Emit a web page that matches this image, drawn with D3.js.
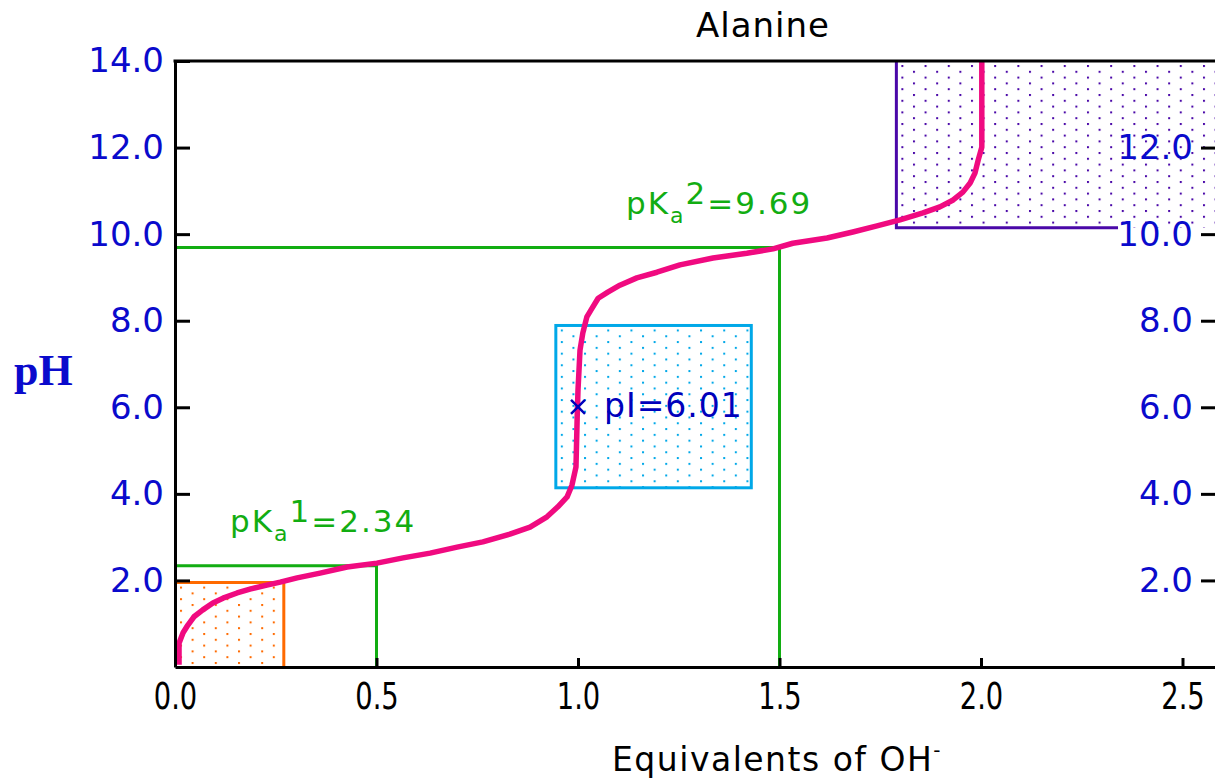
<!DOCTYPE html>
<html>
<head>
<meta charset="utf-8">
<script src="https://cdnjs.cloudflare.com/ajax/libs/d3/7.8.5/d3.min.js"></script>
<style>
  body { margin: 0; background: #fff; overflow: hidden; }
</style>
</head>
<body>
<div id="chart"></div>
<script>
// titration curve of alanine
var eqOH = [0.010, 0.010, 0.020, 0.032, 0.047, 0.069, 0.094, 0.119, 0.154, 0.186,
            0.228, 0.261, 0.303, 0.360, 0.427, 0.501, 0.566, 0.633, 0.700, 0.764,
            0.831, 0.881, 0.923, 0.950, 0.973, 0.985, 0.995, 0.998, 1.000, 1.005,
            1.012, 1.022, 1.035, 1.050, 1.074, 1.104, 1.146, 1.196, 1.253, 1.335,
            1.419, 1.484, 1.533, 1.618, 1.682, 1.742, 1.799, 1.856, 1.898, 1.931,
            1.955, 1.973, 1.985, 1.993, 2.002, 2.002];
var pH = [0.05, 0.55, 0.79, 0.97, 1.16, 1.32, 1.48, 1.59, 1.71, 1.80,
          1.89, 1.96, 2.06, 2.17, 2.31, 2.40, 2.52, 2.63, 2.77, 2.89,
          3.07, 3.23, 3.47, 3.70, 3.93, 4.20, 4.62, 5.78, 6.40, 7.32,
          7.72, 8.09, 8.29, 8.52, 8.66, 8.82, 8.99, 9.12, 9.29, 9.45,
          9.56, 9.66, 9.79, 9.91, 10.05, 10.19, 10.33, 10.49, 10.63, 10.79,
          10.97, 11.18, 11.41, 11.71, 12.01, 14.0];

var pKa1 = 2.34, pKa2 = 9.69;
var pIx = 1.0, pI = 6.01;
var pKa1x = 0.5, pKa2x = 1.5;

// shaded regions: low pH, isoelectric, high pH
var regionX0 = [0, 0.945, 1.79];
var regionX1 = [0.27, 1.43, 2.34];
var regionPH0 = [0, 4.14, 10.15];
var regionPH1 = [1.95, 7.89, 14];
var regionColors = ["#ff6a00", "#00a8e8", "#4a08a8"];

var xTicks = [0, 0.5, 1, 1.5, 2, 2.5];
var yTicksLeft = [2, 4, 6, 8, 10, 12, 14];
var yTicksRight = [2, 4, 6, 8, 10, 12];

var width = 1215, height = 779;
var svg = d3.select("#chart").append("svg")
  .attr("width", width)
  .attr("height", height)
  .style("display", "block");

var x = d3.scaleLinear().domain([0, 2.6]).range([175, 175 + 2.6 * 403]);
var y = d3.scaleLinear().domain([0, 14]).range([667, 61]);

var green = "#12ad12", pink = "#f00a80", blue = "#0a0acc";

// dotted fills
var defs = svg.append("defs");
regionColors.forEach(function (c, i) {
  var p = defs.append("pattern")
    .attr("id", "dots" + i)
    .attr("patternUnits", "userSpaceOnUse")
    .attr("x", x(regionX0[i]) + 5)
    .attr("y", y(regionPH1[i]) + 4)
    .attr("width", 23.2)
    .attr("height", 11.6);
  p.append("rect").attr("x", 0).attr("y", 0).attr("width", 2).attr("height", 2).attr("fill", c);
  p.append("rect").attr("x", 11.6).attr("y", 5.8).attr("width", 2).attr("height", 2).attr("fill", c);
});

// region boxes
regionColors.forEach(function (c, i) {
  var x1 = i === 2 ? x.domain()[1] : regionX1[i];
  svg.append("rect")
    .attr("x", x(regionX0[i]))
    .attr("y", y(regionPH1[i]))
    .attr("width", x(x1) - x(regionX0[i]))
    .attr("height", y(regionPH0[i]) - y(regionPH1[i]))
    .attr("fill", "url(#dots" + i + ")");
});
// borders
svg.append("path")
  .attr("d", "M" + x(regionX0[0]) + "," + y(regionPH1[0]) + "H" + x(regionX1[0]) + "V" + y(regionPH0[0]))
  .attr("fill", "none").attr("stroke", regionColors[0]).attr("stroke-width", 3);
svg.append("rect")
  .attr("x", x(regionX0[1]))
  .attr("y", y(regionPH1[1]))
  .attr("width", x(regionX1[1]) - x(regionX0[1]))
  .attr("height", y(regionPH0[1]) - y(regionPH1[1]))
  .attr("fill", "none").attr("stroke", regionColors[1]).attr("stroke-width", 3);
svg.append("path")
  .attr("d", "M" + x(regionX0[2]) + "," + y(regionPH1[2]) + "V" + y(regionPH0[2]) + "H" + x(regionX1[2]))
  .attr("fill", "none").attr("stroke", regionColors[2]).attr("stroke-width", 3);

// pKa guide lines
[[pKa1x, pKa1], [pKa2x, pKa2]].forEach(function (d) {
  svg.append("path")
    .attr("d", "M" + x(0) + "," + y(d[1]) + "H" + x(d[0]) + "V" + y(0))
    .attr("fill", "none").attr("stroke", green).attr("stroke-width", 3);
});

// curve
var pts = eqOH.map(function (v, i) { return [v, pH[i]]; });
svg.append("path")
  .datum(pts)
  .attr("fill", "none")
  .attr("stroke", pink)
  .attr("stroke-width", 5.5)
  .attr("stroke-linejoin", "round")
  .attr("d", d3.line().x(function (d) { return x(d[0]); }).y(function (d) { return y(d[1]); }));

// pI marker
var px = x(pIx), py = y(pI);
svg.append("path")
  .attr("d", "M" + (px - 7) + "," + (py - 7) + "L" + (px + 7) + "," + (py + 7) +
             "M" + (px + 7) + "," + (py - 7) + "L" + (px - 7) + "," + (py + 7))
  .attr("stroke", "#0000bb").attr("stroke-width", 2.5);
svg.append("text")
  .attr("x", px + 26).attr("y", py + 10)
  .attr("font-family", "DejaVu Sans").attr("font-size", 33)
  .attr("letter-spacing", 1)
  .attr("fill", "#0000bb")
  .text("pI=" + pI.toFixed(2));

// pKa labels
function pkaLabel(xp, yp, n, val) {
  var t = svg.append("text")
    .attr("x", xp).attr("y", yp)
    .attr("font-family", "DejaVu Sans").attr("font-size", 31)
    .attr("letter-spacing", 2)
    .attr("fill", green);
  t.append("tspan").text("pK");
  t.append("tspan").attr("font-size", 22).attr("dy", 9).text("a");
  t.append("tspan").attr("dy", -19).text(n);
  t.append("tspan").attr("dy", 10).text("=" + val.toFixed(2));
}
pkaLabel(230, 532, "1", pKa1);
pkaLabel(626, 214, "2", pKa2);

// axes
var left = svg.append("g")
  .attr("transform", "translate(" + x(0) + ",0)")
  .call(d3.axisLeft(y).tickValues(yTicksLeft).tickSizeInner(-15).tickSizeOuter(0)
    .tickPadding(11).tickFormat(d3.format(".1f")));
var right = svg.append("g")
  .attr("transform", "translate(1215,0)")
  .call(d3.axisLeft(y).tickValues(yTicksRight).tickSizeInner(14).tickSizeOuter(0)
    .tickPadding(8).tickFormat(d3.format(".1f")));
var bottom = svg.append("g")
  .attr("transform", "translate(0," + y(0) + ")")
  .call(d3.axisBottom(x).tickValues(xTicks).tickSizeInner(-9).tickSizeOuter(0)
    .tickPadding(15).tickFormat(d3.format(".1f")));

[left, right].forEach(function (g) {
  g.attr("font-family", "DejaVu Sans").attr("font-size", 34);
  g.selectAll("text").attr("fill", blue);
});
bottom.attr("font-family", "DejaVu Sans").attr("font-size", 38);
bottom.selectAll("text").attr("fill", "#000").attr("transform", "scale(0.72,1)");
[left, right, bottom].forEach(function (g) {
  g.selectAll("line").attr("stroke", "#000").attr("stroke-width", 3);
  g.select(".domain").attr("stroke", "#000").attr("stroke-width", 3);
});
right.select(".domain").remove();
// top border
svg.append("line")
  .attr("x1", x(0) - 1.5).attr("x2", width)
  .attr("y1", y(14)).attr("y2", y(14))
  .attr("stroke", "#000").attr("stroke-width", 3);

// titles
svg.append("text")
  .attr("x", 763).attr("y", 37)
  .attr("text-anchor", "middle")
  .attr("font-family", "DejaVu Sans").attr("font-size", 34)
  .attr("letter-spacing", 1)
  .text("Alanine");

var xt = svg.append("text")
  .attr("x", 612).attr("y", 771)
  .attr("font-family", "DejaVu Sans").attr("font-size", 33)
  .attr("letter-spacing", 1.5)
  .attr("fill", "#000");
xt.append("tspan").text("Equivalents of OH");
xt.append("tspan").attr("font-size", 20).attr("dy", -14).text("-");

svg.append("text")
  .attr("x", 14).attr("y", 385)
  .attr("font-family", "Liberation Serif").attr("font-weight", "bold")
  .attr("font-size", 44)
  .attr("fill", blue)
  .text("pH");
</script>
</body>
</html>
